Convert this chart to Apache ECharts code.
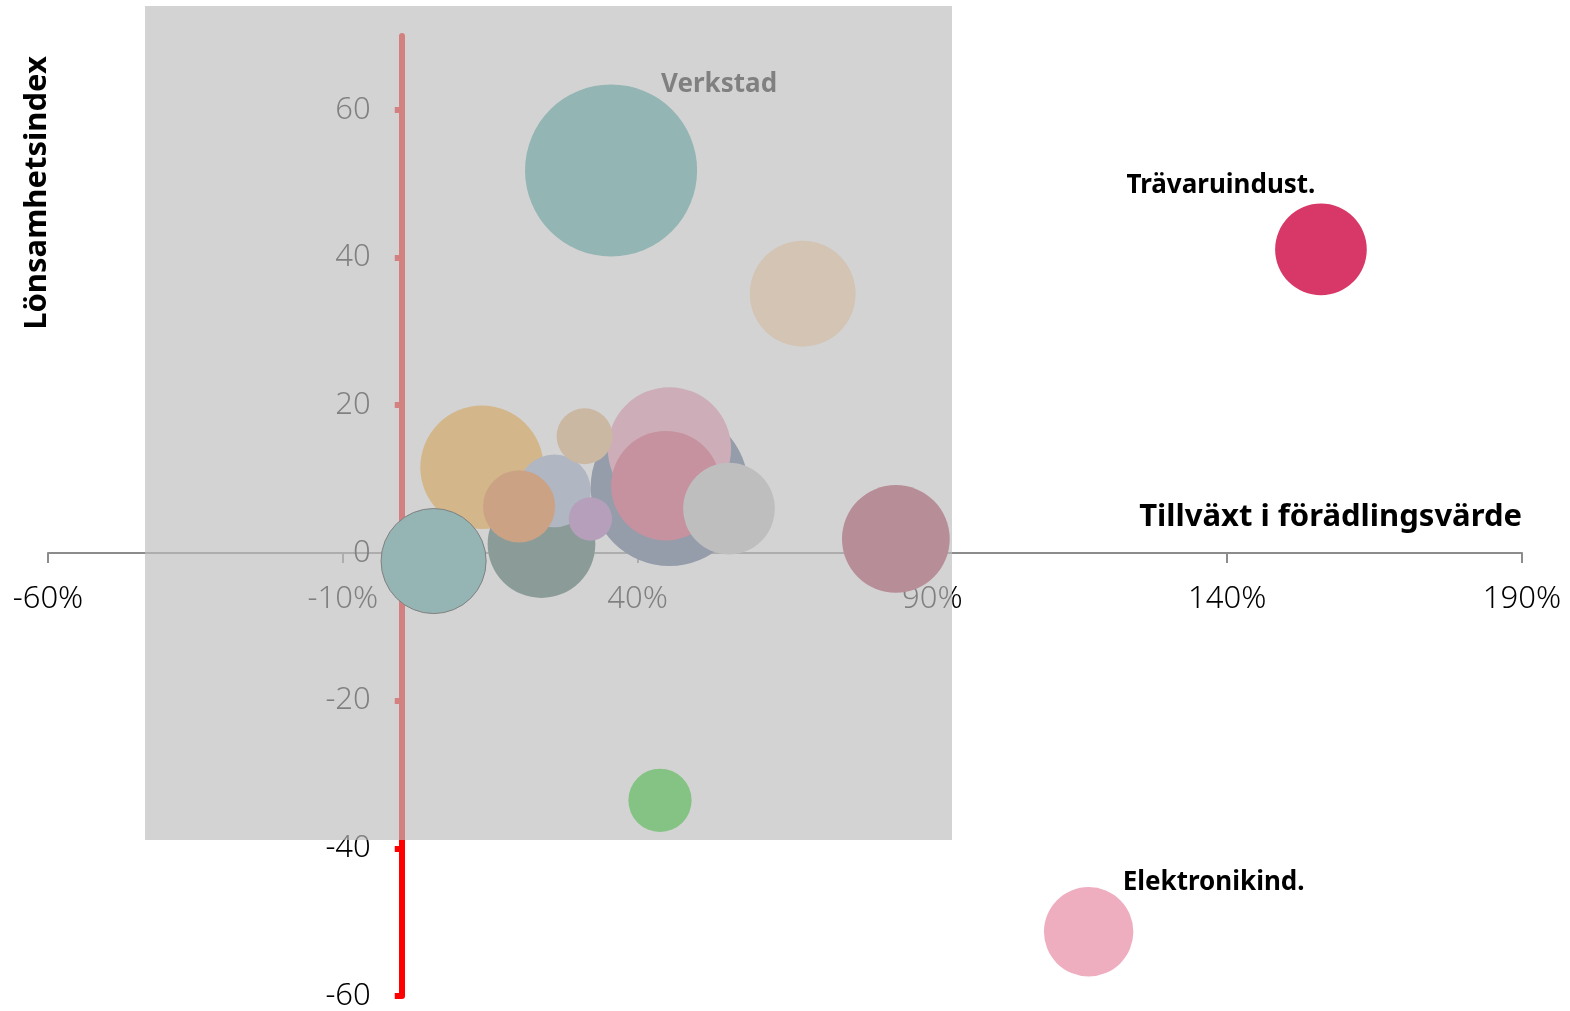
<!DOCTYPE html>
<html>
<head>
<meta charset="utf-8">
<script src="https://cdn.jsdelivr.net/npm/echarts@6/dist/echarts.min.js"></script>
<style>
  html, body { margin: 0; padding: 0; background: #fff; }
  #chart { width: 1570px; height: 1011px; }
</style>
</head>
<body>
<div id="chart"></div>
<script>
// bubbles, in draw order (later ones on top)
const names = ["", "", "", "", "", "", "", "", "", "", "", "Verkstad", "", "", "", "Trävaruindust.", "Elektronikind."];
const growth = [13.6, 23.7, 25.9, 19.9, 5.4, 45.4, 45.4, 44.8, 55.5, 32.0, 31.0, 35.5, 68.0, 83.8, 43.8, 155.9, 116.5];
const profit = [11.6, 1.2, 8.4, 6.3, -1.1, 8.9, 14.1, 9.1, 6.0, 4.6, 15.8, 51.8, 35.1, 1.9, -33.5, 41.1, -51.3];
const weight = [38, 29, 13.3, 13, 27.6, 62, 38, 30, 21, 4.7, 7.8, 74, 28, 29, 10, 21, 20];

const xTicks = [-60, -10, 40, 90, 140, 190];
const yTicks = [-60, -40, -20, 0, 20, 40, 60];

// colours (before the grey veil on top)
const colors = ["#ffa821", "#24564c", "#93a6cb", "#e66b0f", "#3fa29c", "#405984", "#ec8dac", "#d7375f",
  "#bebebe", "#a261b5", "#e6ab68", "#3aa29c", "#ffd09f", "#a92a4c", "#10cd10", "#d83868", "#eeaec0"];
const outlined = 4; // the one bubble with a thin dark edge

// label offsets for the named bubbles
const labelOffset = {
  "Verkstad": [108, -86],
  "Trävaruindust.": [-100, -64],
  "Elektronikind.": [125, -49]
};

const W = 1570, H = 1011;
const grid = { left: 48, right: 48, top: 36, bottom: 15 };
const xMin = -60, xMax = 190, yMin = -60, yMax = 70;
// axes cross at 0, move them there with offset (labels follow)
const gw = W - grid.left - grid.right;
const gh = H - grid.top - grid.bottom;
const yAxisOffset = -(0 - xMin) / (xMax - xMin) * gw;
const xAxisOffset = -(0 - yMin) / (yMax - yMin) * gh;

const chart = echarts.init(document.getElementById("chart"));

const data = growth.map((x, i) => {
  const item = {
    name: names[i],
    value: [x, profit[i], weight[i]],
    itemStyle: { color: colors[i] }
  };
  if (i === outlined) {
    item.itemStyle.borderColor = "#000";
    item.itemStyle.borderWidth = 1;
  }
  if (names[i]) {
    item.label = { show: true, offset: labelOffset[names[i]] };
  }
  return item;
});

const font = "'Noto Sans', 'Open Sans', sans-serif";

const option = {
  animation: false,
  grid: {
    left: grid.left, right: grid.right, top: grid.top, bottom: grid.bottom,
    containLabel: false,
    outerBoundsMode: "none"
  },
  xAxis: {
    type: "value",
    min: xMin,
    max: xMax,
    offset: xAxisOffset,
    axisLine: { onZero: false, lineStyle: { color: "#8c8c8c", width: 2 } },
    axisTick: { show: true, length: 10, customValues: xTicks, lineStyle: { color: "#8c8c8c", width: 2 } },
    axisLabel: {
      customValues: xTicks,
      margin: 31,
      color: "#000",
      fontFamily: font,
      fontWeight: 300,
      fontSize: 31,
      formatter: v => v + "%"
    },
    splitLine: { show: false }
  },
  yAxis: {
    type: "value",
    min: yMin,
    max: yMax,
    offset: yAxisOffset,
    axisLine: { show: true, onZero: false, lineStyle: { color: "#ff0000", width: 6 } },
    axisTick: { show: true, length: 7, customValues: yTicks, lineStyle: { color: "#ff0000", width: 6 } },
    axisLabel: {
      customValues: yTicks,
      margin: 31,
      color: "#000",
      fontFamily: font,
      fontWeight: 300,
      fontSize: 31
    },
    splitLine: { show: false }
  },
  series: [
    {
      type: "scatter",
      data: data,
      symbolSize: val => Math.sqrt(val[2]) * 20,
      itemStyle: { opacity: 1 },
      label: {
        show: false,
        position: "inside",
        formatter: p => p.name,
        color: "#000",
        fontFamily: font,
        fontWeight: "bold",
        fontSize: 26
      },
      emphasis: { disabled: true }
    }
  ],
  graphic: [
    {
      type: "text",
      x: 37,
      y: 193,
      rotation: Math.PI / 2,
      style: {
        text: "Lönsamhetsindex",
        fill: "#000",
        font: "bold 31px " + font,
        textAlign: "center",
        textVerticalAlign: "middle"
      }
    },
    {
      type: "text",
      x: 1522,
      y: 517,
      style: {
        text: "Tillväxt i förädlingsvärde",
        fill: "#000",
        font: "bold 31px " + font,
        textAlign: "right",
        textVerticalAlign: "middle"
      }
    },
    {
      // grey veil over the middle of the chart
      type: "rect",
      z: 100,
      shape: { x: 145, y: 6, width: 807, height: 834 },
      style: { fill: "rgba(190,190,190,0.675)" }
    }
  ]
};

chart.setOption(option);
</script>
</body>
</html>
